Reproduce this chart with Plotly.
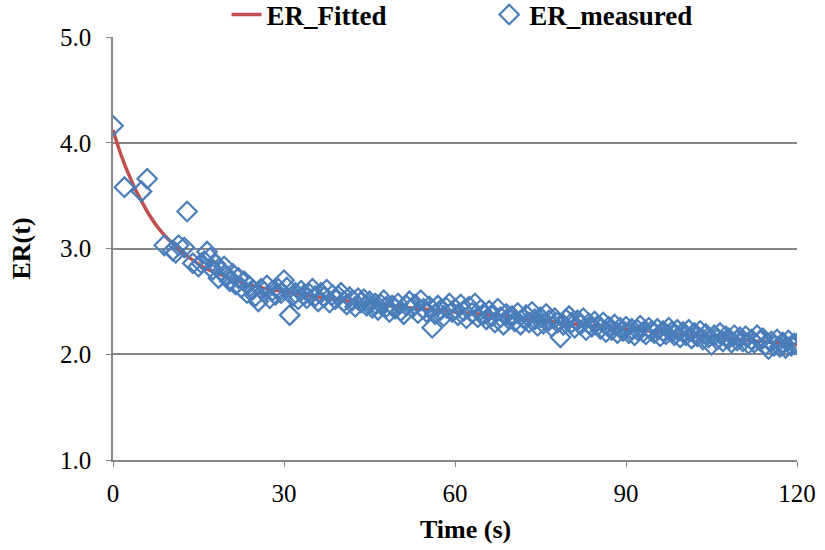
import plotly.graph_objects as go

# Fitted curve
t_fit = [0, 1, 2, 3, 4, 5, 6, 8, 10, 12, 14, 16, 18, 20, 23, 26, 30, 35, 40, 50, 60, 70, 80, 90, 100, 110, 120]
er_fit = [4.12, 3.95, 3.80, 3.67, 3.55, 3.45, 3.35, 3.19, 3.07, 2.97, 2.89, 2.82, 2.77, 2.73, 2.67, 2.63, 2.59,
          2.55, 2.51, 2.45, 2.40, 2.35, 2.29, 2.24, 2.19, 2.14, 2.09]

# Measured points: early sparse samples
t_early = [0, 2, 5, 6, 9, 10.5, 11, 11.5, 12.5, 13, 14]
er_early = [4.16, 3.58, 3.54, 3.66, 3.03, 2.98, 2.96, 3.03, 3.01, 3.35, 2.86]

# Measured points: every 0.5 s from 15 s
t_late_start = 15
t_late_step = 0.5
er_late = [
    2.83, 2.86, 2.88, 2.97, 2.91, 2.80, 2.85, 2.72, 2.78, 2.83,
    2.74, 2.69, 2.76, 2.66, 2.72, 2.63, 2.69, 2.58, 2.64, 2.61,
    2.55, 2.50, 2.62, 2.59, 2.65, 2.53, 2.60, 2.56, 2.62, 2.58,
    2.70, 2.63, 2.37, 2.55, 2.58, 2.52, 2.60, 2.56, 2.53, 2.57,
    2.62, 2.55, 2.50, 2.58, 2.54, 2.61, 2.49, 2.56, 2.52, 2.55,
    2.58, 2.50, 2.47, 2.54, 2.51, 2.45, 2.53, 2.49, 2.52, 2.46,
    2.50, 2.44, 2.48, 2.42, 2.47, 2.51, 2.45, 2.40, 2.46, 2.43,
    2.48, 2.41, 2.38, 2.46, 2.50, 2.44, 2.47, 2.39, 2.51, 2.43,
    2.40, 2.45, 2.25, 2.38, 2.46, 2.42, 2.36, 2.44, 2.48, 2.40,
    2.43, 2.37, 2.47, 2.41, 2.34, 2.45, 2.39, 2.48, 2.35, 2.42,
    2.38, 2.33, 2.41, 2.36, 2.30, 2.43, 2.35, 2.28, 2.38, 2.33,
    2.36, 2.31, 2.39, 2.28, 2.34, 2.37, 2.30, 2.40, 2.33, 2.27,
    2.35, 2.29, 2.38, 2.32, 2.26, 2.34, 2.30, 2.16, 2.28, 2.33,
    2.36, 2.30, 2.25, 2.32, 2.28, 2.34, 2.23, 2.29, 2.26, 2.31,
    2.27, 2.24, 2.30, 2.21, 2.26, 2.23, 2.28, 2.20, 2.25, 2.22,
    2.26, 2.20, 2.24, 2.18, 2.23, 2.27, 2.21, 2.19, 2.25, 2.22,
    2.20, 2.24, 2.17, 2.22, 2.19, 2.25, 2.21, 2.18, 2.23, 2.16,
    2.21, 2.18, 2.23, 2.15, 2.20, 2.17, 2.22, 2.14, 2.19, 2.16,
    2.09, 2.18, 2.14, 2.20, 2.12, 2.17, 2.15, 2.11, 2.18, 2.13,
    2.16, 2.12, 2.17, 2.10, 2.14, 2.11, 2.18, 2.13, 2.15, 2.09,
    2.05, 2.12, 2.08, 2.14, 2.07, 2.11, 2.06, 2.13, 2.08, 2.10,
    2.10,
]
t_late = [t_late_start + t_late_step * i for i in range(len(er_late))]

t_meas = t_early + t_late
er_meas = er_early + er_late

x_ticks = [0, 30, 60, 90, 120]
y_ticks = [1.0, 2.0, 3.0, 4.0, 5.0]

FONT = "Liberation Serif, Times New Roman, serif"
LEG_FONT = dict(family=FONT, size=27, color="black", weight="bold")

fig = go.Figure()
fig.add_trace(go.Scatter(
    x=t_fit, y=er_fit, mode="lines", name="ER_Fitted", legend="legend",
    line=dict(color="#C0504D", width=3.5, shape="spline", smoothing=0.6),
))
fig.add_trace(go.Scatter(
    x=t_meas, y=er_meas, mode="markers", name="ER_measured", legend="legend2",
    marker=dict(symbol="diamond-open", size=15, color="#4A7EBB", line=dict(width=2.2, color="#4A7EBB")),
))

fig.update_layout(
    width=825, height=550,
    margin=dict(l=113, r=28, t=37, b=90, autoexpand=False),
    plot_bgcolor="white", paper_bgcolor="white",
    font=dict(family=FONT, size=25, color="black"),
    showlegend=True,
    legend=dict(orientation="h", x=0.166, xanchor="left", y=1.052, yanchor="middle",
                font=LEG_FONT, bgcolor="rgba(0,0,0,0)"),
    legend2=dict(orientation="h", x=0.550, xanchor="left", y=1.052, yanchor="middle",
                 font=LEG_FONT, bgcolor="rgba(0,0,0,0)"),
    xaxis=dict(
        range=[0, 120], tickvals=x_ticks, ticktext=[str(v) for v in x_ticks],
        showgrid=False, zeroline=False, showline=True, linecolor="#868686", linewidth=1.5,
        ticks="outside", ticklen=5, tickcolor="#868686", ticklabelstandoff=5,
        tickfont=dict(family=FONT, size=25),
    ),
    yaxis=dict(
        range=[1.0, 5.0], tickvals=y_ticks, ticktext=["%.1f" % v for v in y_ticks],
        showgrid=True, gridcolor="#868686", gridwidth=1.5, zeroline=False,
        showline=True, linecolor="#868686", linewidth=1.5,
        ticks="outside", ticklen=5, tickcolor="#868686", ticklabelstandoff=10,
        title=dict(text="<b>ER(t)</b>", font=dict(family=FONT, size=26), standoff=22),
        tickfont=dict(family=FONT, size=25),
    ),
    annotations=[dict(
        text="<b>Time (s)</b>", xref="paper", yref="paper", x=0.515, y=-0.165,
        xanchor="center", yanchor="middle", showarrow=False,
        font=dict(family=FONT, size=26, color="black"),
    )],
)

fig.write_html("out.html")
